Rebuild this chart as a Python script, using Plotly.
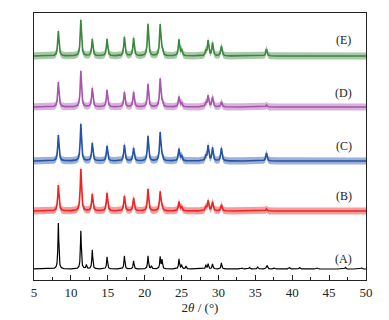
import numpy as np
import plotly.graph_objects as go

# Peak positions (2theta, degrees) shared by all patterns
peak_pos = [8.3, 11.35, 12.1, 12.9, 14.9, 17.25, 18.5, 20.45, 20.9, 22.1, 22.35,
            24.65, 25.0, 25.6, 28.3, 28.6, 29.2, 30.4, 36.5]

# Peak heights for each pattern (relative intensity units)
heights_A = [46, 38, 4, 19, 12, 13, 8, 13, 3, 12, 9, 10, 4, 3, 4, 5, 5, 6, 2]
heights_B = [26, 42, 0, 17, 18, 15, 13, 22, 0, 19, 4, 9, 4, 0, 4, 10, 9, 6, 2]
heights_C = [26, 37, 0, 18, 15, 16, 13, 25, 0, 28, 5, 12, 5, 0, 5, 15, 13, 13, 8]
heights_D = [25, 36, 0, 19, 17, 15, 15, 23, 0, 28, 4, 10, 4, 0, 4, 11, 10, 5, 2]
heights_E = [25, 36, 0, 17, 17, 19, 18, 32, 0, 31, 5, 16, 6, 0, 5, 15, 13, 10, 7]

# Minor peaks of reference pattern (A) at high angle
minor_pos_A = [33.2, 34.2, 35.3, 36.6, 37.6, 39.6, 41.0, 43.4, 47.2, 49.4]
minor_h_A = [1, 1.5, 2, 2.5, 1, 1.5, 1.5, 1, 1.5, 1]

# Vertical offsets (stacking) and noise amplitude per pattern
labels = ["(A)", "(B)", "(C)", "(D)", "(E)"]
offsets = [11, 69, 119, 173, 224]
noise_amp = [0, 3.6, 3.6, 3.6, 3.6]
colors = ["#000000", "#ec2424", "#2352a6", "#a654ae", "#3b873d"]
band_colors = ["rgba(0,0,0,0)", "rgba(236,36,36,0.45)", "rgba(35,82,166,0.45)",
               "rgba(166,84,174,0.45)", "rgba(59,135,61,0.45)"]
peak_width = [0.07, 0.1, 0.1, 0.1, 0.1]
label_y = [21, 84, 134, 187, 240]

x = np.arange(5, 50.001, 0.01)

def profile(pos, h, w):
    y = np.zeros_like(x)
    for p, hh in zip(pos, h):
        if hh > 0:
            y += hh / (1 + ((x - p) / w) ** 2)
    return y

all_heights = [heights_A, heights_B, heights_C, heights_D, heights_E]

fig = go.Figure()
for i in range(5):
    y = profile(peak_pos, all_heights[i], peak_width[i])
    if i == 0:
        y = y + profile(minor_pos_A, minor_h_A, 0.08)
    y = y + offsets[i]
    if noise_amp[i] > 0:
        fig.add_trace(go.Scatter(x=x, y=y - noise_amp[i], mode="lines",
                                 line=dict(width=0, color=colors[i]),
                                 showlegend=False, hoverinfo="skip"))
        fig.add_trace(go.Scatter(x=x, y=y + noise_amp[i], mode="lines",
                                 line=dict(width=0),
                                 fill="tonexty", fillcolor=band_colors[i],
                                 showlegend=False, hoverinfo="skip"))
    fig.add_trace(go.Scatter(x=x, y=y, mode="lines",
                             line=dict(width=1.6 if i else 1.2, color=colors[i]),
                             showlegend=False, hoverinfo="skip"))
    fig.add_annotation(x=47.0, y=label_y[i], text=labels[i], showarrow=False,
                       font=dict(family="Liberation Serif", size=12, color="#222"))

fig.update_layout(
    width=381, height=312,
    margin=dict(l=26, r=23, t=5, b=40),
    paper_bgcolor="white", plot_bgcolor="white",
    font=dict(family="Liberation Serif", size=13, color="#222"),
    xaxis=dict(range=[5, 50], dtick=5, tick0=5, ticks="inside", ticklen=5,
               tickwidth=1, tickcolor="#222", showgrid=False, zeroline=False,
               showline=True, linecolor="#222", linewidth=1, mirror=True,
               minor=dict(ticks="inside", ticklen=3, dtick=2.5, tick0=5,
                          tickcolor="#222", showgrid=False),
               title=dict(text="2<i>θ</i> / (°)", standoff=4,
                          font=dict(family="Liberation Serif", size=13))),
    yaxis=dict(range=[0, 267], showticklabels=False, ticks="", showgrid=False,
               zeroline=False, showline=True, linecolor="#222", linewidth=1,
               mirror=True),
)

fig.write_html("out.html")
